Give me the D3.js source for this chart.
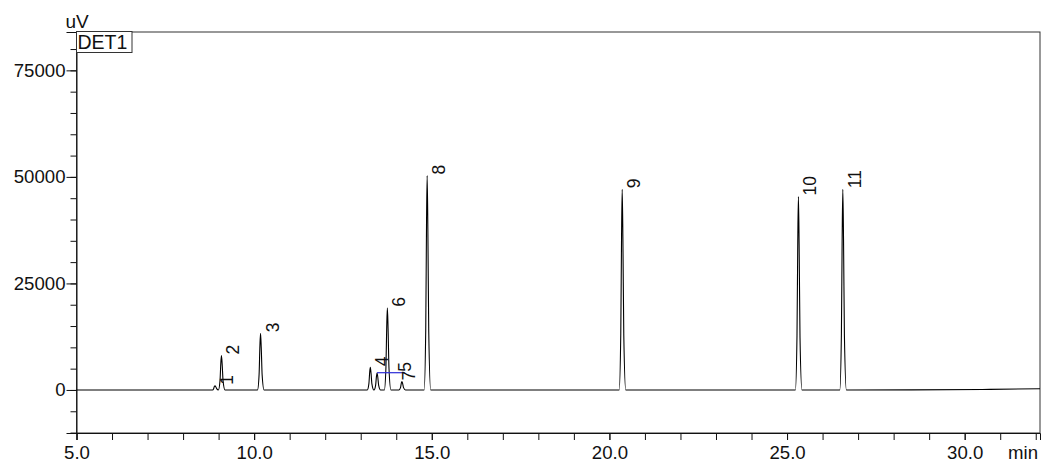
<!DOCTYPE html>
<html>
<head>
<meta charset="utf-8">
<script src="https://cdn.jsdelivr.net/npm/d3@7/dist/d3.min.js"></script>
<style>
  html, body { margin: 0; padding: 0; background: #fff; }
  svg { display: block; font-family: "Liberation Sans", Arial, sans-serif; }
</style>
</head>
<body>
<svg id="chart" width="1043" height="463"></svg>
<script>
// Detector trace, time in minutes and signal in uV
const traceTime = [
  5.0, 8.70,
  8.83, 8.86, 8.88, 8.90, 8.92, 8.95, 8.99,
  8.995, 9.04, 9.062, 9.08, 9.10, 9.125, 9.18,
  10.095, 10.14, 10.162, 10.18, 10.20, 10.225, 10.28,
  13.185, 13.23, 13.252, 13.27, 13.29, 13.315, 13.37,
  13.375, 13.42, 13.442, 13.46, 13.48, 13.505, 13.56,
  13.665, 13.71, 13.732, 13.75, 13.77, 13.795, 13.85,
  14.075, 14.12, 14.142, 14.16, 14.18, 14.205, 14.26,
  14.785, 14.83, 14.852, 14.87, 14.89, 14.915, 14.97,
  20.275, 20.32, 20.342, 20.36, 20.38, 20.405, 20.46,
  25.235, 25.28, 25.302, 25.32, 25.34, 25.365, 25.42,
  26.485, 26.53, 26.552, 26.57, 26.59, 26.615, 26.67,
  28.5, 30.5, 32.12
];
const traceSignal = [
  0, 0,
  0, 300, 800, 1000, 750, 250, 0,
  0, 2270, 6240, 8100, 6080, 2190, 0,
  0, 3720, 10240, 13300, 9980, 3590, 0,
  0, 1480, 4080, 5300, 3980, 1430, 0,
  0, 1130, 3120, 4050, 3040, 1090, 0,
  0, 5400, 14860, 19300, 14480, 5210, 0,
  0, 560, 1540, 2000, 1500, 540, 0,
  0, 14080, 38730, 50300, 37730, 13580, 0,
  0, 13190, 36270, 47100, 35330, 12720, 0,
  0, 12710, 34960, 45400, 34050, 12260, 0,
  0, 13190, 36270, 47100, 35330, 12720, 0,
  30, 120, 280
];

// Peak numbers and where each number is written (time, uV)
const peakNames = ["1", "2", "3", "4", "5", "6", "7", "8", "9", "10", "11"];
const labelTimes = [8.90, 9.08, 10.18, 13.27, 13.90, 13.75, 14.02, 14.87, 20.36, 25.32, 26.57];
const labelLevels = [1000, 8100, 13300, 5300, 4050, 19300, 2000, 50300, 47100, 45400, 47100];

// Integration baseline drawn under peaks 5-7
const baseTimes = [13.46, 14.24];
const baseLevels = [4050, 4050];

// Axis ticks
const xTickLabels = [5, 10, 15, 20, 25, 30];
const xMinorTicks = d3.range(5, 33, 1);
const yTickLabels = [0, 25000, 50000, 75000];
const yMinorTicks = d3.range(-10000, 80001, 5000);

const plotLeft = 76.5, plotRight = 1040, plotTop = 32, plotBottom = 433;
const ink = "#111";
const font = "Liberation Sans, Arial, sans-serif";

const svg = d3.select("#chart");

const x = d3.scaleLinear().domain([5, 32.12]).range([plotLeft, plotRight]);
const y = d3.scaleLinear().domain([-10100, 84000]).range([plotBottom, plotTop]);

// frame
svg.append("rect")
  .attr("x", plotLeft).attr("y", plotTop)
  .attr("width", plotRight - plotLeft).attr("height", plotBottom - plotTop)
  .attr("fill", "none").attr("stroke", "#333").attr("stroke-width", 1);

// minor ticks
svg.append("g")
  .attr("transform", `translate(0,${plotBottom})`)
  .call(d3.axisBottom(x).tickValues(xMinorTicks).tickSize(7).tickFormat(""))
  .call(g => g.select(".domain").remove())
  .call(g => g.selectAll("line").attr("stroke", ink));

svg.append("g")
  .attr("transform", `translate(${plotLeft},0)`)
  .call(d3.axisLeft(y).tickValues(yMinorTicks).tickSize(6).tickFormat(""))
  .call(g => g.select(".domain").remove())
  .call(g => g.selectAll("line").attr("stroke", ink));

// labelled ticks
const xAxis = svg.append("g")
  .attr("transform", `translate(0,${plotBottom})`)
  .call(d3.axisBottom(x).tickValues(xTickLabels).tickSize(7).tickPadding(6)
    .tickFormat(d3.format(".1f")));
xAxis.select(".domain").attr("stroke", ink);
xAxis.selectAll("line").attr("stroke", ink);
xAxis.selectAll("text").attr("fill", ink).attr("font-size", "18.6px")
  .attr("font-family", font);

const yAxis = svg.append("g")
  .attr("transform", `translate(${plotLeft},0)`)
  .call(d3.axisLeft(y).tickValues(yTickLabels).tickSize(10).tickPadding(1)
    .tickFormat(d3.format("d")));
yAxis.select(".domain").attr("stroke", ink);
yAxis.selectAll("line").attr("stroke", ink);
yAxis.selectAll("text").attr("fill", ink).attr("font-size", "18.6px")
  .attr("font-family", font);

// unit labels
svg.append("text").attr("x", 65.5).attr("y", 27.5)
  .attr("font-size", "19px").attr("fill", ink).text("uV");
svg.append("text").attr("x", 1038).attr("y", 459)
  .attr("text-anchor", "end")
  .attr("font-size", "18.6px").attr("fill", ink).text("min");

// detector tag
svg.append("rect")
  .attr("x", plotLeft).attr("y", 31.5).attr("width", 55.5).attr("height", 21)
  .attr("fill", "#fff").attr("stroke", "#333").attr("stroke-width", 1);
svg.append("text").attr("x", 77.5).attr("y", 48.5)
  .attr("font-size", "19.5px").attr("fill", ink).text("DET1");

// trace
const points = traceTime.map((t, i) => [t, traceSignal[i]]);
const line = d3.line()
  .x(d => x(d[0])).y(d => y(d[1]))
  .curve(d3.curveMonotoneX);

svg.append("path")
  .datum(points)
  .attr("d", line)
  .attr("fill", "none")
  .attr("stroke", "#000")
  .attr("stroke-width", 1.1)
  .attr("stroke-linejoin", "round");

// integration baseline
svg.append("path")
  .datum(baseTimes.map((t, i) => [t, baseLevels[i]]))
  .attr("d", d3.line().x(d => x(d[0])).y(d => y(d[1])))
  .attr("stroke", "#2b2bd6")
  .attr("stroke-width", 1.2)
  .attr("fill", "none");

// peak numbers, written upward beside each apex
svg.append("g")
  .selectAll("text")
  .data(peakNames)
  .join("text")
  .attr("transform", (d, i) =>
    `translate(${x(labelTimes[i]) + 4},${y(labelLevels[i]) - 1}) rotate(-90)`)
  .attr("dy", "0.8em")
  .attr("font-size", "17.5px")
  .attr("fill", ink)
  .text(d => d);
</script>
</body>
</html>
